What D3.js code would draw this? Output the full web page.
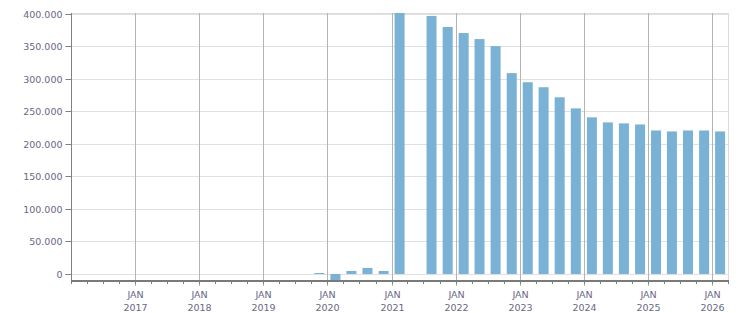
<!DOCTYPE html>
<html>
<head>
<meta charset="utf-8">
<script src="https://cdn.jsdelivr.net/npm/d3@7"></script>
<style>
  body { margin: 0; background: #fff; }
  svg text { font-family: "DejaVu Sans", Verdana, sans-serif; font-size: 9.5px; fill: #686884; }
</style>
</head>
<body>
<div id="chart"></div>
<script>

// quarterly values, starting Q4 2019
var quarters = ["2019-10", "2020-01", "2020-04", "2020-07", "2020-10",
  "2021-01", "2021-04", "2021-07", "2021-10",
  "2022-01", "2022-04", "2022-07", "2022-10",
  "2023-01", "2023-04", "2023-07", "2023-10",
  "2024-01", "2024-04", "2024-07", "2024-10",
  "2025-01", "2025-04", "2025-07", "2025-10",
  "2026-01"];

var values = [1500, -9300, 4600, 9300, 4600,
  405000, 0, 397000, 380000,
  370700, 361400, 350600, 309000,
  295000, 287300, 271800, 254800,
  241000, 233200, 231700, 230000,
  220800, 219300, 220800, 220800,
  219300];

var yTicks = [0, 50000, 100000, 150000, 200000, 250000, 300000, 350000, 400000];
var yearTicks = ["2017", "2018", "2019", "2020", "2021", "2022", "2023", "2024", "2025", "2026"];
var monthLabel = "JAN";

var domainStart = "2016-01", domainEnd = "2026-04";
var yMin = -10800, yMax = 401500;

/************************************************************************************************************/

var margin = {top: 13, right: 23, bottom: 32, left: 71};
var W = 751, H = 313;

var svg = d3.select("#chart").append("svg").attr("width", W).attr("height", H);

var parseMonth = d3.timeParse("%Y-%m");
var locale = d3.formatLocale({decimal: ",", thousands: ".", grouping: [3], currency: ["", ""]});
var fmt = locale.format(",.0f");

var x = d3.scaleTime()
  .domain([parseMonth(domainStart), parseMonth(domainEnd)])
  .range([margin.left, W - margin.right]);

var y = d3.scaleLinear()
  .domain([yMin, yMax])
  .range([H - margin.bottom, margin.top]);

var plotRight = W - margin.right, plotBottom = H - margin.bottom;

svg.append("clipPath").attr("id", "plotClip").append("rect")
  .attr("x", margin.left).attr("y", margin.top)
  .attr("width", plotRight - margin.left).attr("height", plotBottom - margin.top);

//frame top / right
svg.append("line").attr("x1", margin.left).attr("x2", plotRight)
  .attr("y1", margin.top + 0.5).attr("y2", margin.top + 0.5)
  .attr("stroke", "#dcdcdc");
svg.append("line").attr("x1", plotRight + 0.5).attr("x2", plotRight + 0.5)
  .attr("y1", margin.top).attr("y2", plotBottom)
  .attr("stroke", "#dcdcdc");

//horizontal grid
svg.append("g").selectAll("line").data(yTicks).enter().append("line")
  .attr("x1", margin.left).attr("x2", plotRight)
  .attr("y1", function (d) { return Math.round(y(d)) + 0.5; })
  .attr("y2", function (d) { return Math.round(y(d)) + 0.5; })
  .attr("stroke", "#e0e0e0");

//vertical grid at january
var years = yearTicks.map(function (d) { return parseMonth(d + "-01"); });
svg.append("g").selectAll("line").data(years).enter().append("line")
  .attr("x1", function (d) { return Math.round(x(d)) + 0.5; })
  .attr("x2", function (d) { return Math.round(x(d)) + 0.5; })
  .attr("y1", margin.top).attr("y2", plotBottom + 5)
  .attr("stroke", "#b4b4b4");

//bars
var data = quarters.map(function (q, i) {
  var start = parseMonth(q);
  return {start: start, end: d3.timeMonth.offset(start, 3), value: values[i]};
});

var barWidth = 10;
svg.append("g").attr("clip-path", "url(#plotClip)")
  .selectAll("rect").data(data.filter(function (d) { return d.value !== 0; })).enter().append("rect")
  .attr("x", function (d) { return (x(d.start) + x(d.end)) / 2 - barWidth / 2; })
  .attr("width", barWidth)
  .attr("y", function (d) { return y(Math.max(0, d.value)); })
  .attr("height", function (d) { return Math.max(1, Math.abs(y(d.value) - y(0))); })
  .attr("fill", "#79b2d4");

//y axis
var yAxis = svg.append("g").attr("transform", "translate(" + (margin.left + 0.5) + ",0)");
yAxis.append("line").attr("y1", margin.top).attr("y2", plotBottom).attr("stroke", "#808080");
var yt = yAxis.selectAll(".yt").data(yTicks).enter().append("g")
  .attr("transform", function (d) { return "translate(0," + (Math.round(y(d)) + 0.5) + ")"; });
yt.append("line").attr("x1", -6).attr("x2", 0).attr("stroke", "#808080");
yt.append("text").attr("x", -9).attr("dy", "0.35em").attr("text-anchor", "end").text(fmt);

//x axis
var quarterTicks = d3.timeMonth.every(3).range(x.domain()[0], d3.timeMonth.offset(x.domain()[1], 1));
svg.append("g").selectAll("line").data(quarterTicks).enter().append("line")
  .attr("x1", function (d) { return Math.round(x(d)) + 0.5; })
  .attr("x2", function (d) { return Math.round(x(d)) + 0.5; })
  .attr("y1", plotBottom).attr("y2", plotBottom + 3)
  .attr("stroke", "#808080");

svg.append("line").attr("x1", margin.left).attr("x2", plotRight + 1)
  .attr("y1", plotBottom).attr("y2", plotBottom)
  .attr("stroke", "#7a7a7a").attr("stroke-width", 2);

var xl = svg.append("g").selectAll("text").data(years).enter().append("text")
  .attr("text-anchor", "middle")
  .attr("transform", function (d) { return "translate(" + (Math.round(x(d)) + 0.5) + ",0)"; });
xl.append("tspan").attr("x", 0).attr("y", 298).text(monthLabel);
xl.append("tspan").attr("x", 0).attr("y", 311).text(function (d, i) { return yearTicks[i]; });

</script>
</body>
</html>
